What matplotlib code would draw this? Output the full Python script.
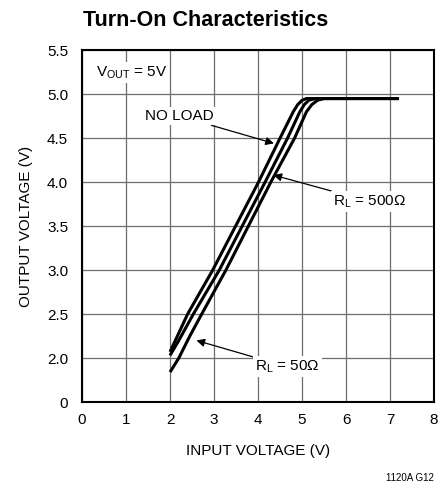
import matplotlib.pyplot as plt
import numpy as np

plt.rcParams["font.family"] = ["Liberation Sans Narrow", "Liberation Sans", "DejaVu Sans"]

# curve data (input V, output V)
vin_noload = [2.0, 2.40, 2.97, 4.01, 4.50, 4.80, 4.90, 5.00, 5.10, 7.2]
vout_noload = [2.07, 2.5, 3.0, 4.0, 4.5, 4.8, 4.88, 4.93, 4.95, 4.95]

vin_500 = [2.0, 2.2, 2.53, 3.12, 4.16, 4.67, 4.95, 5.05, 5.15, 5.30, 7.2]
vout_500 = [2.03, 2.2, 2.5, 3.0, 4.0, 4.5, 4.8, 4.88, 4.93, 4.95, 4.95]

vin_50 = [2.0, 2.2, 2.45, 2.72, 3.27, 4.29, 4.83, 5.10, 5.22, 5.35, 5.50, 7.2]
vout_50 = [1.84, 2.0, 2.25, 2.5, 3.0, 4.0, 4.5, 4.8, 4.88, 4.93, 4.95, 4.95]

x_ticks = [0, 1, 2, 3, 4, 5, 6, 7, 8]
y_ticks = [1.5, 2.0, 2.5, 3.0, 3.5, 4.0, 4.5, 5.0, 5.5]
y_labels = ["0", "2.0", "2.5", "3.0", "3.5", "4.0", "4.5", "5.0", "5.5"]

fig = plt.figure(figsize=(4.48, 4.87), dpi=100)
ax = fig.add_axes([0.183, 0.1745, 0.786, 0.7225])

for xs, ys in [(vin_noload, vout_noload), (vin_500, vout_500), (vin_50, vout_50)]:
    ax.plot(xs, ys, color="black", linewidth=2.2, solid_capstyle="butt",
            solid_joinstyle="round", zorder=3)

ax.set_xlim(0, 8)
ax.set_ylim(1.5, 5.5)
ax.set_xticks(x_ticks)
ax.set_yticks(y_ticks)
ax.set_yticklabels(y_labels)
ax.tick_params(length=0, labelsize=11)
ax.tick_params(axis="x", pad=8)
ax.tick_params(axis="y", pad=10)
ax.grid(True, color="#6e6e6e", linewidth=0.9)
ax.set_axisbelow(True)
for s in ax.spines.values():
    s.set_linewidth(1.5)

ax.set_xlabel("INPUT VOLTAGE (V)", fontsize=11, labelpad=12)
ax.set_ylabel("OUTPUT VOLTAGE (V)", fontsize=11, labelpad=10)

box = dict(facecolor="white", edgecolor="none", pad=1.5)
ax.text(0.32, 5.25, "V$_{\\mathregular{OUT}}$ = 5V", fontsize=11, va="center", ha="left",
        bbox=box, zorder=4)

arrow = dict(arrowstyle="-|>", color="black", linewidth=0.9, mutation_scale=12,
             shrinkA=0, shrinkB=0)
ax.annotate("NO LOAD", xy=(4.36, 4.44), xytext=(3.0, 4.75), fontsize=11,
            ha="right", va="center", bbox=box, arrowprops=arrow, zorder=4)
ax.annotate("R$_{\\mathregular{L}}$ = 500\u03a9", xy=(4.35, 4.08), xytext=(5.7, 3.78),
            fontsize=11, ha="left", va="center", bbox=box, arrowprops=arrow, zorder=4)
ax.annotate("R$_{\\mathregular{L}}$ = 50\u03a9", xy=(2.6, 2.2), xytext=(3.93, 1.9),
            fontsize=11, ha="left", va="center", bbox=box, arrowprops=arrow, zorder=4)

fig.text(0.185, 0.958, "Turn-On Characteristics", fontsize=15.5, fontweight="bold",
         ha="left", va="center")
fig.text(0.968, 0.018, "1120A G12", fontsize=7, ha="right", va="center")

fig.savefig("out.png", dpi=100)
